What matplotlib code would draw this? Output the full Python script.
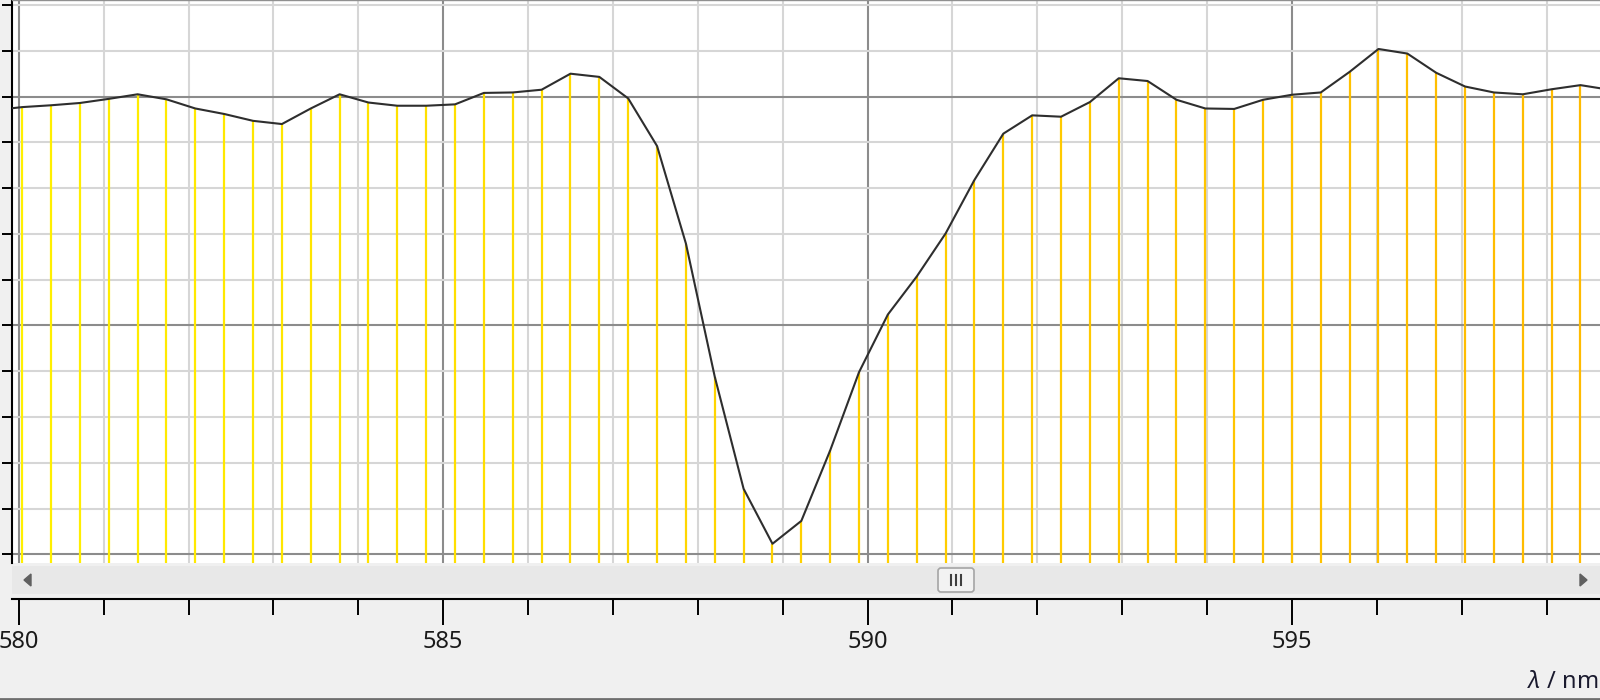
import matplotlib
matplotlib.use("Agg")
import matplotlib.pyplot as plt
from matplotlib.ticker import MultipleLocator
from matplotlib.colors import LinearSegmentedColormap, Normalize
from matplotlib.patches import FancyBboxPatch, Polygon
from matplotlib.lines import Line2D

plt.rcParams['font.family'] = ['Noto Sans', 'DejaVu Sans']
plt.rcParams['mathtext.fontset'] = 'custom'
plt.rcParams['mathtext.it'] = 'Noto Sans:italic'
plt.rcParams['mathtext.rm'] = 'Noto Sans'

# Spectrum samples (wavelength in nm, signal in grid units)
wavelength = [579.70, 580.04, 580.38, 580.72, 581.06, 581.40, 581.74, 582.08,
              582.42, 582.76, 583.10, 583.44, 583.78, 584.12, 584.46, 584.80,
              585.14, 585.48, 585.82, 586.16, 586.50, 586.84, 587.18, 587.52,
              587.86, 588.20, 588.54, 588.88, 589.22, 589.56, 589.90, 590.24,
              590.58, 590.92, 591.26, 591.60, 591.94, 592.28, 592.62, 592.96,
              593.30, 593.64, 593.98, 594.32, 594.66, 595.00, 595.34, 595.68,
              596.02, 596.36, 596.70, 597.04, 597.38, 597.72, 598.06, 598.40,
              598.74]
signal = [9.70, 9.77, 9.81, 9.86, 9.95, 10.05, 9.94, 9.74,
          9.62, 9.47, 9.40, 9.74, 10.05, 9.87, 9.80, 9.80,
          9.83, 10.08, 10.09, 10.15, 10.50, 10.43, 9.96, 8.92,
          6.79, 3.88, 1.43, 0.23, 0.73, 2.27, 3.98, 5.24,
          6.07, 7.01, 8.18, 9.19, 9.59, 9.56, 9.88, 10.40,
          10.34, 9.93, 9.74, 9.73, 9.93, 10.04, 10.09, 10.54,
          11.04, 10.94, 10.52, 10.22, 10.09, 10.05, 10.16, 10.25,
          10.15]
x_ticks = [580, 585, 590, 595]
x_tick_labels = ['580', '585', '590', '595']

W, H = 1600, 700
XMIN, XMAX = 579.92, 598.63
YMIN, YMAX = -0.19, 12.11


def fx(px):
    return px / W


def fy(py):
    return 1 - py / H


fig = plt.figure(figsize=(16, 7), dpi=100, facecolor='#F0F0F0')

# main plot area
ax = fig.add_axes([fx(12), fy(563), fx(W - 12), 563 / H])
ax.set_facecolor('white')
ax.set_xlim(XMIN, XMAX)
ax.set_ylim(YMIN, YMAX)
for a in (ax.xaxis, ax.yaxis):
    a.set_major_locator(MultipleLocator(5))
    a.set_minor_locator(MultipleLocator(1))
ax.grid(which='minor', color='#D6D6D6', lw=1.5)
ax.grid(which='major', color='#8C8C8C', lw=1.5)
ax.set_axisbelow(True)
ax.tick_params(axis='x', which='both', length=0, labelbottom=False)
ax.tick_params(axis='y', which='both', direction='out', length=7, width=1.4,
               labelleft=False, color='black')
ax.spines['left'].set_color('black')
ax.spines['left'].set_linewidth(1.5)
ax.spines['top'].set_color('#909090')
ax.spines['top'].set_linewidth(1)
ax.spines['right'].set_visible(False)
ax.spines['bottom'].set_visible(False)

# wavelength-coloured stems
cmap = LinearSegmentedColormap.from_list('spec', ['#FFF000', '#FFD200', '#FFBB00'])
norm = Normalize(580, 598)
ax.vlines(wavelength, YMIN, signal, colors=[cmap(norm(w)) for w in wavelength],
          lw=1.6, zorder=2)
ax.plot(wavelength, signal, color='#2E2E2E', lw=1.5, zorder=3)

# scrollbar
sb = fig.add_axes([fx(12), fy(594), fx(W - 12), 28 / H])
sb.set_facecolor('#E8E8E8')
sb.set_xlim(0, W - 12)
sb.set_ylim(0, 28)
sb.set_xticks([])
sb.set_yticks([])
for s in sb.spines.values():
    s.set_visible(False)
sb.add_patch(Polygon([[12, 14], [19, 8], [19, 20]], closed=True, color='#606060'))
sb.add_patch(Polygon([[1575, 14], [1568, 8], [1568, 20]], closed=True, color='#606060'))
sb.add_patch(FancyBboxPatch((926, 2), 36, 24, boxstyle='round,pad=0,rounding_size=3',
                            facecolor='#F2F2F2', edgecolor='#A5A5A5', lw=1.2))
for gx in (939, 944, 949):
    sb.plot([gx, gx], [9, 19], color='#404040', lw=1.5)

# bottom wavelength axis
axx = fig.add_axes([fx(12), fy(599), fx(W - 12), 0.0001])
axx.patch.set_visible(False)
axx.set_xlim(XMIN, XMAX)
axx.set_yticks([])
for side in ('top', 'left', 'right'):
    axx.spines[side].set_visible(False)
axx.spines['bottom'].set_color('black')
axx.spines['bottom'].set_linewidth(1.5)
axx.set_xticks(x_ticks, x_tick_labels)
axx.xaxis.set_minor_locator(MultipleLocator(1))
axx.tick_params(axis='x', which='major', length=18.7, width=1.4, pad=3.5,
                labelsize=17, labelcolor='#1A1A1A')
axx.tick_params(axis='x', which='minor', length=11.5, width=1.4)

fig.text(fx(1598), fy(682), r'$\lambda$ / nm', ha='right', va='center',
         fontsize=17, color='#1A1A2E')
fig.add_artist(Line2D([0, 1], [fy(698.5), fy(698.5)], transform=fig.transFigure,
                      color='#6E6E6E', lw=2))

fig.savefig('out.png', dpi=100, facecolor=fig.get_facecolor())
